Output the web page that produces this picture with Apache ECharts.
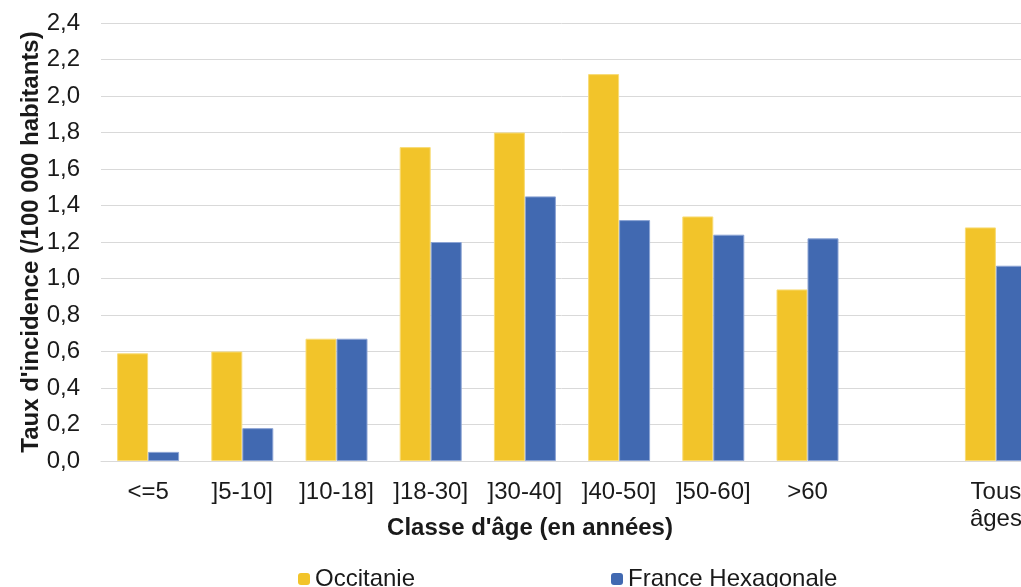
<!DOCTYPE html>
<html>
<head>
<meta charset="utf-8">
<script src="https://cdn.jsdelivr.net/npm/echarts@6/dist/echarts.min.js"></script>
<style>
  html, body { margin: 0; padding: 0; background: #fff; }
  #chart { width: 1021px; height: 587px; }
</style>
</head>
<body>
<div id="chart"></div>
<script>
// classes d'âge (la 9e catégorie est un espace vide avant "Tous âges")
const categories = ['<=5', ']5-10]', ']10-18]', ']18-30]', ']30-40]', ']40-50]', ']50-60]', '>60', '', 'Tous\nâges']
const occitanie = [0.59, 0.60, 0.67, 1.72, 1.80, 2.12, 1.34, 0.94, null, 1.28]
const franceHexa = [0.05, 0.18, 0.67, 1.20, 1.45, 1.32, 1.24, 1.22, null, 1.07]
const yTicks = { min: 0, max: 2.4, interval: 0.2 }

const font = '"Liberation Sans", Arial, sans-serif'
const chart = echarts.init(document.getElementById('chart'))

const legendText = { fontSize: 24, color: '#1a1a1a', fontFamily: font }

const option = {
  animation: false,
  textStyle: { fontFamily: font },
  grid: {
    left: 101,
    top: 23,
    width: 942,
    height: 438,
    outerBoundsMode: 'none'
  },
  legend: [
    {
      data: ['Occitanie'],
      left: 293,
      top: 562,
      itemWidth: 12,
      itemHeight: 12,
      itemStyle: { borderWidth: 0 },
      textStyle: legendText
    },
    {
      data: ['France Hexagonale'],
      left: 606,
      top: 562,
      itemWidth: 12,
      itemHeight: 12,
      itemStyle: { borderWidth: 0 },
      textStyle: legendText
    }
  ],
  graphic: [
    {
      type: 'text',
      x: 530,
      y: 528,
      style: {
        text: "Classe d'âge (en années)",
        font: 'bold 24px ' + font,
        fill: '#1a1a1a',
        align: 'center',
        verticalAlign: 'middle'
      }
    }
  ],
  xAxis: {
    type: 'category',
    data: categories,
    axisLine: { show: true, lineStyle: { color: '#d9d9d9', width: 1 } },
    axisTick: { show: false },
    axisLabel: {
      interval: 0,
      fontSize: 24,
      color: '#1a1a1a',
      margin: 18,
      lineHeight: 27,
      verticalAlign: 'top'
    }
  },
  yAxis: {
    type: 'value',
    min: yTicks.min,
    max: yTicks.max,
    interval: yTicks.interval,
    name: "Taux d'incidence (/100 000 habitants)",
    nameLocation: 'middle',
    nameGap: 58,
    nameMoveOverlap: false,
    nameTextStyle: { fontSize: 24, fontWeight: 'bold', color: '#1a1a1a', fontFamily: font },
    axisLine: { show: false },
    axisTick: { show: false },
    axisLabel: {
      fontSize: 24,
      color: '#1a1a1a',
      margin: 21,
      formatter: v => v.toFixed(1).replace('.', ',')
    },
    splitLine: { lineStyle: { color: '#d9d9d9', width: 1 } }
  },
  series: [
    {
      name: 'Occitanie',
      type: 'bar',
      data: occitanie,
      barWidth: 31,
      barGap: '0%',
      itemStyle: { color: '#F2C42A', borderColor: '#F8DC78', borderWidth: 1 }
    },
    {
      name: 'France Hexagonale',
      type: 'bar',
      data: franceHexa,
      barWidth: 31,
      barGap: '0%',
      itemStyle: { color: '#4169B1', borderColor: '#8CA4D4', borderWidth: 1 }
    }
  ]
}

chart.setOption(option)
</script>
</body>
</html>
